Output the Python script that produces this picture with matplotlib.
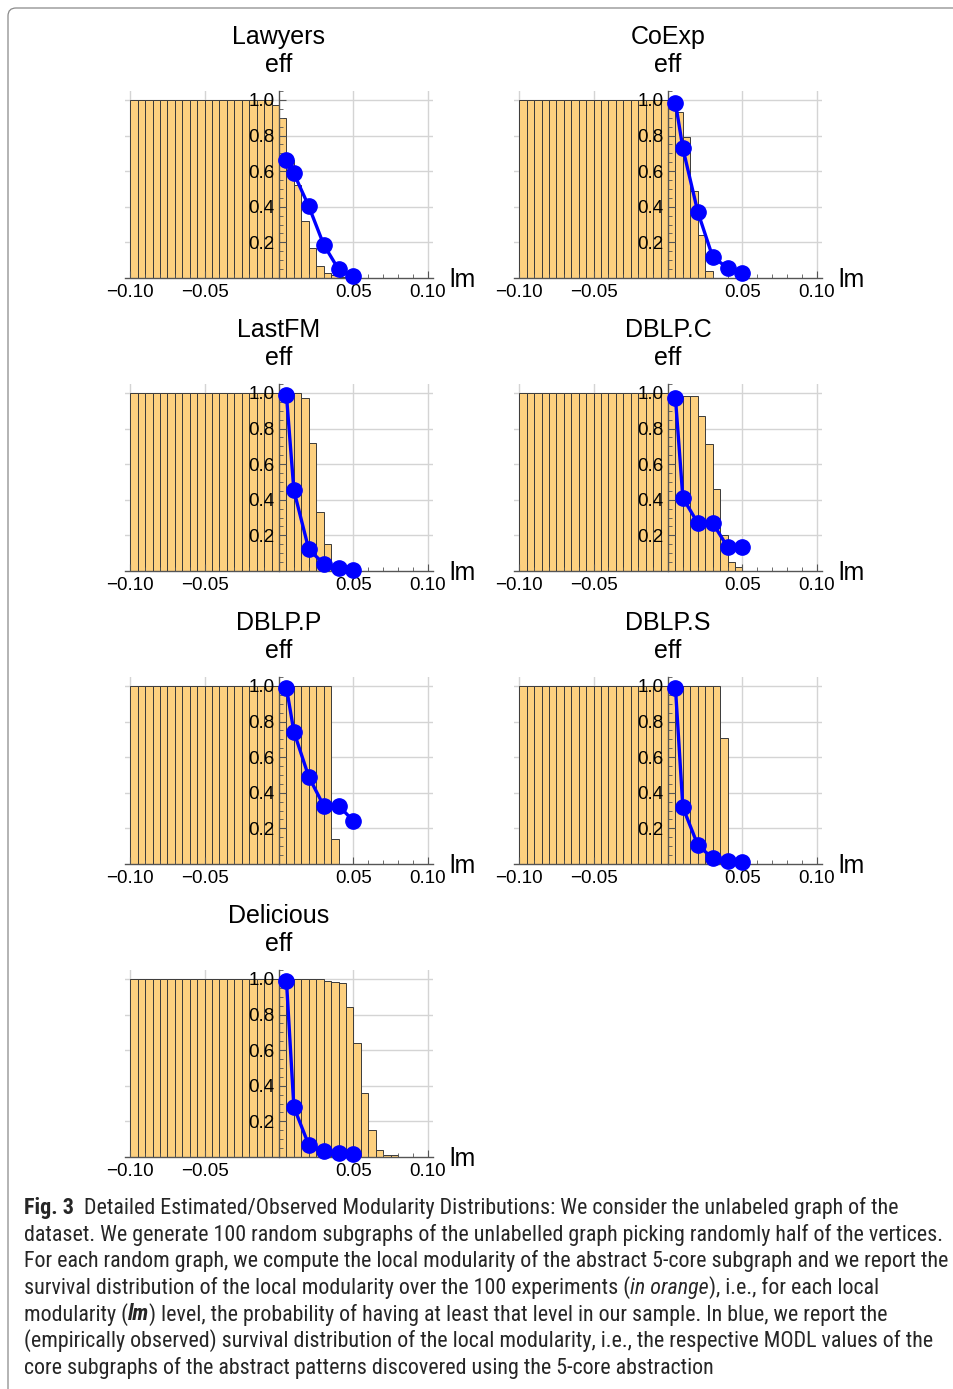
import matplotlib
matplotlib.use('Agg')
import matplotlib.pyplot as plt
from matplotlib import font_manager
from matplotlib.ticker import FixedLocator, MultipleLocator
from matplotlib.patches import FancyBboxPatch
from matplotlib.transforms import IdentityTransform, blended_transform_factory

# survival distribution (orange), bins of width 0.005 starting at -0.10
bin_start = -0.10
bin_width = 0.005

lawyers_hist = [1.0, 1.0, 1.0, 1.0, 1.0, 1.0, 1.0, 1.0, 1.0, 1.0,
                1.0, 1.0, 1.0, 1.0, 1.0, 1.0, 1.0, 1.0, 1.0, 0.97,
                0.90, 0.66, 0.52, 0.32, 0.17, 0.07, 0.03, 0.015, 0.005]
coexp_hist = [1.0, 1.0, 1.0, 1.0, 1.0, 1.0, 1.0, 1.0, 1.0, 1.0,
              1.0, 1.0, 1.0, 1.0, 1.0, 1.0, 1.0, 1.0, 1.0, 1.0,
              0.99, 0.93, 0.79, 0.49, 0.24, 0.04]
lastfm_hist = [1.0, 1.0, 1.0, 1.0, 1.0, 1.0, 1.0, 1.0, 1.0, 1.0,
               1.0, 1.0, 1.0, 1.0, 1.0, 1.0, 1.0, 1.0, 1.0, 1.0,
               1.0, 1.0, 1.0, 0.97, 0.72, 0.33, 0.15]
dblpc_hist = [1.0, 1.0, 1.0, 1.0, 1.0, 1.0, 1.0, 1.0, 1.0, 1.0,
              1.0, 1.0, 1.0, 1.0, 1.0, 1.0, 1.0, 1.0, 1.0, 1.0,
              0.98, 0.98, 0.98, 0.98, 0.87, 0.715, 0.46, 0.20, 0.05, 0.02]
dblpp_hist = [1.0, 1.0, 1.0, 1.0, 1.0, 1.0, 1.0, 1.0, 1.0, 1.0,
              1.0, 1.0, 1.0, 1.0, 1.0, 1.0, 1.0, 1.0, 1.0, 1.0,
              1.0, 1.0, 1.0, 1.0, 1.0, 1.0, 1.0, 0.14]
dblps_hist = [1.0, 1.0, 1.0, 1.0, 1.0, 1.0, 1.0, 1.0, 1.0, 1.0,
              1.0, 1.0, 1.0, 1.0, 1.0, 1.0, 1.0, 1.0, 1.0, 1.0,
              1.0, 1.0, 1.0, 1.0, 1.0, 1.0, 1.0, 0.71]
delicious_hist = [1.0, 1.0, 1.0, 1.0, 1.0, 1.0, 1.0, 1.0, 1.0, 1.0,
                  1.0, 1.0, 1.0, 1.0, 1.0, 1.0, 1.0, 1.0, 1.0, 1.0,
                  1.0, 1.0, 1.0, 1.0, 1.0, 1.0, 0.99, 0.985, 0.975, 0.84,
                  0.64, 0.36, 0.15, 0.04, 0.01, 0.01]

# observed survival distribution (blue)
lm_levels = [0.005, 0.01, 0.02, 0.03, 0.04, 0.05]
lawyers_obs = [0.662, 0.587, 0.403, 0.188, 0.049, 0.009]
coexp_obs = [0.985, 0.728, 0.372, 0.119, 0.057, 0.028]
lastfm_obs = [0.987, 0.453, 0.122, 0.041, 0.017, 0.007]
dblpc_obs = [0.972, 0.41, 0.27, 0.27, 0.135, 0.135]
dblpp_obs = [0.99, 0.743, 0.49, 0.328, 0.328, 0.242]
dblps_obs = [0.99, 0.318, 0.107, 0.032, 0.017, 0.011]
delicious_obs = [0.99, 0.28, 0.068, 0.036, 0.02, 0.017]

names = ['Lawyers', 'CoExp', 'LastFM', 'DBLP.C', 'DBLP.P', 'DBLP.S', 'Delicious']
hists = [lawyers_hist, coexp_hist, lastfm_hist, dblpc_hist, dblpp_hist, dblps_hist, delicious_hist]
observed = [lawyers_obs, coexp_obs, lastfm_obs, dblpc_obs, dblpp_obs, dblps_obs, delicious_obs]

xticks = [-0.10, -0.05, 0.05, 0.10]
xtick_labels = ['\u22120.10', '\u22120.05', '0.05', '0.10']
yticks = [0.2, 0.4, 0.6, 0.8, 1.0]
ytick_labels = ['0.2', '0.4', '0.6', '0.8', '1.0']

plot_font = 'Liberation Sans'
available = {f.name for f in font_manager.fontManager.ttflist}
cap_font = 'Liberation Sans'
for cand in ['Liberation Sans Narrow', 'Roboto Condensed', 'Open Sans Condensed', 'Noto Sans Condensed']:
    if cand in available:
        cap_font = cand
        break

plt.rcParams['font.family'] = [plot_font, 'DejaVu Sans']

W, H = 954, 1389
fig = plt.figure(figsize=(W / 100, H / 100), dpi=100)

for i, name in enumerate(names):
    r, c = divmod(i, 2)
    left = 125 + 389 * c
    bottom = 278 + 293 * r
    ax = fig.add_axes([left / W, 1 - bottom / H, 308 / W, 187 / H])

    # grid lines behind the bars
    for gx in xticks:
        ax.axvline(gx, color='#d4d4d4', lw=1.0, zorder=0)
    for gy in yticks:
        ax.axhline(gy, color='#d4d4d4', lw=1.0, zorder=0)

    h = hists[i]
    edges = [bin_start + k * bin_width for k in range(len(h))]
    ax.bar(edges, h, width=bin_width, align='edge', color='#FDD07F',
           edgecolor='#3a3a3a', linewidth=0.7, zorder=1)
    ax.plot(lm_levels, observed[i], color='#0000FF', lw=2.4, marker='o',
            markersize=11, zorder=4, clip_on=False)

    ax.set_xlim(-0.1035, 0.1035)
    ax.set_ylim(0, 1.05)
    ax.spines['left'].set_position(('data', 0))
    ax.spines['top'].set_visible(False)
    ax.spines['right'].set_visible(False)
    for s in ['left', 'bottom']:
        ax.spines[s].set_color('#555555')
        ax.spines[s].set_linewidth(1.0)
        ax.spines[s].set_zorder(3)
    ax.xaxis.set_major_locator(FixedLocator(xticks))
    ax.set_xticklabels(xtick_labels)
    ax.xaxis.set_minor_locator(MultipleLocator(0.01))
    ax.yaxis.set_major_locator(FixedLocator(yticks))
    ax.set_yticklabels(ytick_labels)
    ax.yaxis.set_minor_locator(MultipleLocator(0.05))
    ax.tick_params(which='major', direction='in', length=5, width=0.8,
                   color='#555555', labelsize=13.5, pad=4)
    ax.tick_params(which='minor', direction='in', length=3, width=0.6,
                   color='#555555')
    ax.tick_params(axis='y', pad=3)
    ax.set_axisbelow(False)
    ax.patch.set_alpha(0)

    ax.set_title(name + '\neff', fontsize=18, linespacing=1.17, pad=14)
    tr = blended_transform_factory(ax.transAxes, ax.transData)
    ax.text(1.053, -0.05, 'lm', transform=tr, fontsize=18, ha='left', va='baseline')

# caption
caption = [
    [('Fig. 3', 'bold', 'normal'), ('  Detailed Estimated/Observed Modularity Distributions: We consider the unlabeled graph of the', 'normal', 'normal')],
    [('dataset. We generate 100 random subgraphs of the unlabelled graph picking randomly half of the vertices.', 'normal', 'normal')],
    [('For each random graph, we compute the local modularity of the abstract 5-core subgraph and we report the', 'normal', 'normal')],
    [('survival distribution of the local modularity over the 100 experiments (', 'normal', 'normal'), ('in orange', 'normal', 'italic'), ('), i.e., for each local', 'normal', 'normal')],
    [('modularity (', 'normal', 'normal'), ('lm', 'bold', 'italic'), (') level, the probability of having at least that level in our sample. In blue, we report the', 'normal', 'normal')],
    [('(empirically observed) survival distribution of the local modularity, i.e., the respective MODL values of the', 'normal', 'normal')],
    [('core subgraphs of the abstract patterns discovered using the 5-core abstraction', 'normal', 'normal')],
]
renderer = fig.canvas.get_renderer()
cap_size = 15.8
y0 = 1214
for li, runs in enumerate(caption):
    x = 24
    y = y0 + li * 26.6
    for txt, weight, style in runs:
        t = fig.text(x / W, 1 - y / H, txt, fontsize=cap_size, family=[cap_font, 'DejaVu Sans'],
                     fontweight=weight, fontstyle=style, ha='left', va='baseline',
                     color='#262626')
        bb = t.get_window_extent(renderer)
        x += bb.width

border = FancyBboxPatch((8, -20), 980, 1389 - 8 + 20, boxstyle='round,pad=0,rounding_size=8',
                        transform=IdentityTransform(), fill=False, edgecolor='#8a8a8a', lw=0.9)
fig.patches.append(border)

fig.savefig('out.png', dpi=100)
